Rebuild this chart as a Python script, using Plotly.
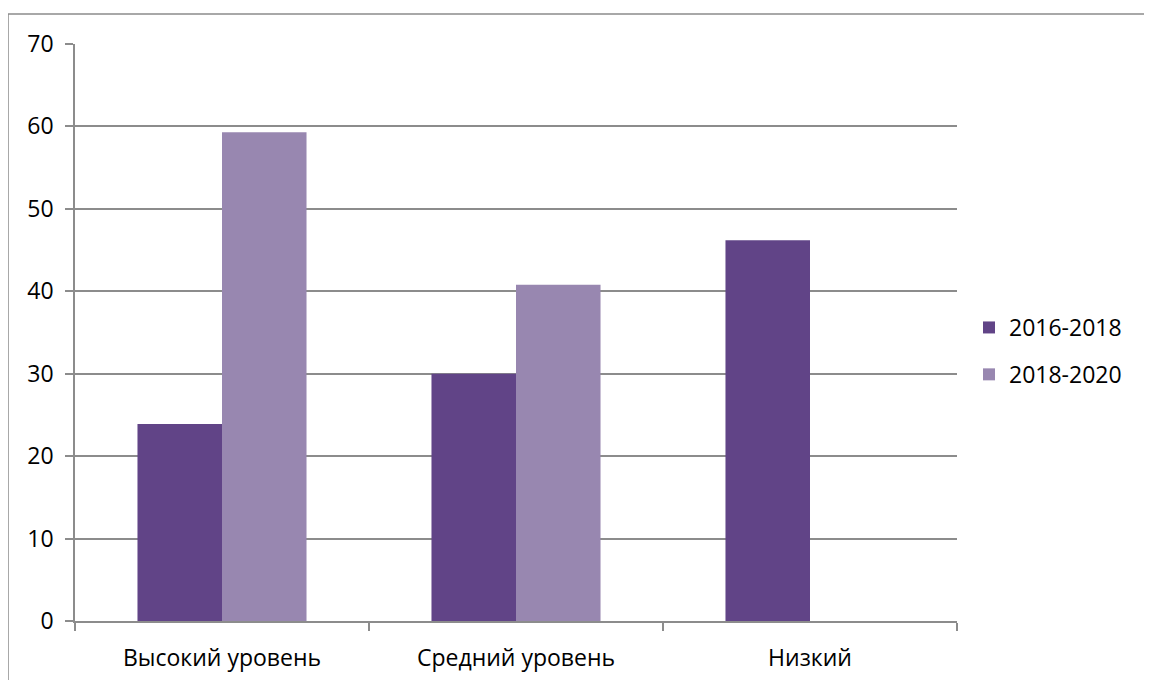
import plotly.graph_objects as go

categories = ["Высокий уровень", "Средний уровень", "Низкий"]
series_names = ["2016-2018", "2018-2020"]
values_2016_2018 = [23.9, 30.0, 46.2]
values_2018_2020 = [59.3, 40.8, None]
y_ticks = [0, 10, 20, 30, 40, 50, 60, 70]

colors = ["#614487", "#9887b0"]
font_family = "'Open Sans', sans-serif"

fig = go.Figure()
fig.add_trace(go.Bar(x=categories, y=values_2016_2018, name=series_names[0],
                     legendgroup="g1",
                     marker=dict(color=colors[0], line=dict(width=0))))
fig.add_trace(go.Bar(x=categories, y=values_2018_2020, name=series_names[1],
                     legendgroup="g2",
                     marker=dict(color=colors[1], line=dict(width=0))))

# page body has an 8px margin, so the figure is drawn at (8, 8)
OFF = 8
W, H = 1152 - OFF, 680 - OFF
L, T = 75 - OFF, 44 - OFF
R, B = W - (957 - OFF), H - (621 - OFF)
pw, ph = W - L - R, H - T - B

def px_x(p):
    return (p - OFF - L) / pw

def px_y(p):
    return (H - B - (p - OFF)) / ph

fig.update_layout(
    width=W, height=H,
    margin=dict(l=L, r=R, t=T, b=B, pad=0, autoexpand=False),
    paper_bgcolor="white", plot_bgcolor="white",
    barmode="group", bargap=0.425, bargroupgap=0,
    font=dict(family=font_family, size=23, color="#000000"),
    showlegend=True,
    legend=dict(x=px_x(969), y=px_y(306), xanchor="left", yanchor="top",
                font=dict(size=23), itemwidth=30, tracegroupgap=14,
                bgcolor="rgba(0,0,0,0)"),
    xaxis=dict(type="category", showgrid=False, showline=True,
               linecolor="#8c8c8c", linewidth=1.5, automargin=False,
               ticks="outside", tickson="boundaries", ticklen=8,
               tickcolor="#8c8c8c", tickwidth=1.5, ticklabelstandoff=16),
    yaxis=dict(range=[0, 70], tickvals=y_ticks, showgrid=True,
               gridcolor="#8c8c8c", gridwidth=1.5, showline=True,
               linecolor="#8c8c8c", linewidth=1.5, ticks="outside",
               automargin=False,
               ticklen=8, tickcolor="#8c8c8c", tickwidth=1.5,
               zeroline=False, ticklabelstandoff=7),
    shapes=[dict(type="rect", xref="paper", yref="paper",
                 x0=px_x(8), x1=px_x(1170), y0=px_y(14), y1=px_y(700),
                 line=dict(color="#8c8c8c", width=1.5), layer="below")],
)

fig.write_html("out.html")
